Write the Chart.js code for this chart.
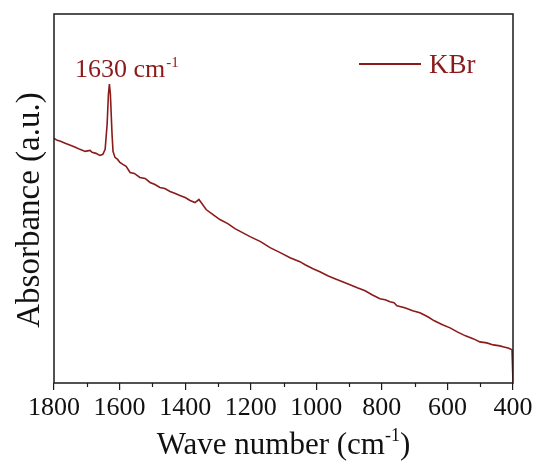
<!DOCTYPE html>
<html>
<head>
<meta charset="utf-8">
<script src="https://cdn.jsdelivr.net/npm/chart.js@4/dist/chart.umd.min.js"></script>
<style>
  html, body { margin: 0; padding: 0; background: #fff; }
  #wrap { width: 538px; height: 462px; position: relative; }
</style>
</head>
<body>
<div id="wrap"><canvas id="ftirChart"></canvas></div>
<script>
// FTIR spectrum of KBr (arbitrary absorbance units)
const waveNumbers = [
  1800, 1790, 1780, 1766, 1750, 1735, 1721, 1705, 1690, 1684, 1672, 1660, 1651,
  1644, 1638, 1634, 1631, 1628, 1623, 1620, 1614, 1606, 1599, 1590, 1580, 1568,
  1555, 1538, 1522, 1507, 1492, 1477, 1462, 1446, 1430, 1416, 1400, 1385, 1370,
  1358, 1349, 1336, 1315, 1294, 1270, 1248, 1225, 1202, 1170, 1141, 1110, 1080,
  1050, 1034, 1010, 989, 965, 943, 920, 897, 875, 851, 830, 806, 790, 775, 763,
  754, 730, 706, 684, 660, 640, 615, 592, 570, 545, 520, 501, 480, 460, 440,
  428, 415, 408, 403, 400
];
const absorbance = [
  244, 242, 241, 239, 237, 235, 233, 231, 232, 230, 229, 227, 228,
  233, 258, 288, 298, 288, 248, 231, 225, 223, 220, 218, 216, 210,
  209, 205, 204, 200, 198, 195, 194, 191, 189, 187, 185, 182, 180,
  183, 179, 173, 168, 163, 159, 154, 150, 146, 141, 135, 130, 125,
  121, 118, 114, 111, 107, 104, 101, 98, 95, 92, 88, 84, 83, 81, 80,
  77, 75, 72, 70, 66, 62, 58, 55, 51, 47, 44, 41, 40, 38, 37,
  36, 35, 34, 33, 0
];
const xMajorTicks = [1800, 1600, 1400, 1200, 1000, 800, 600, 400];
const xMinorTicks = [1700, 1500, 1300, 1100, 900, 700, 500];
const seriesLabel = "KBr";
const peakLabel = "1630 cm";

const lineColor = "#8b1a1a";
const axisColor = "#1a1a1a";
const serif = "'Liberation Serif', 'Times New Roman', serif";

const points = waveNumbers.map((w, i) => ({ x: w, y: absorbance[i] }));

// Frame, minor ticks, titles, legend and peak label
const decorations = {
  id: "decorations",
  afterDraw(chart) {
    const { ctx, chartArea: a, scales } = chart;
    ctx.save();
    ctx.strokeStyle = axisColor;
    ctx.lineWidth = 1.5;
    ctx.strokeRect(a.left, a.top, a.right - a.left, a.bottom - a.top);

    // minor ticks
    ctx.lineWidth = 1.2;
    xMinorTicks.forEach(v => {
      const px = Math.round(scales.x.getPixelForValue(v)) + 0.5;
      ctx.beginPath();
      ctx.moveTo(px, a.bottom);
      ctx.lineTo(px, a.bottom + 4);
      ctx.stroke();
    });

    ctx.fillStyle = "#111";
    ctx.textBaseline = "alphabetic";

    // x title with superscript
    const t1 = "Wave number (cm", sup = "-1", t2 = ")";
    ctx.font = `31px ${serif}`;
    const w1 = ctx.measureText(t1).width, w3 = ctx.measureText(t2).width;
    ctx.font = `18px ${serif}`;
    const w2 = ctx.measureText(sup).width;
    const x0 = (a.left + a.right) / 2 - (w1 + w2 + w3) / 2;
    const by = 454;
    ctx.textAlign = "left";
    ctx.font = `31px ${serif}`;
    ctx.fillText(t1, x0, by);
    ctx.font = `18px ${serif}`;
    ctx.fillText(sup, x0 + w1, by - 13);
    ctx.font = `31px ${serif}`;
    ctx.fillText(t2, x0 + w1 + w2, by);

    // y title
    ctx.save();
    ctx.translate(39, 210);
    ctx.rotate(-Math.PI / 2);
    ctx.textAlign = "center";
    ctx.font = `33px ${serif}`;
    ctx.fillText("Absorbance (a.u.)", 0, 0);
    ctx.restore();

    // peak label
    ctx.fillStyle = lineColor;
    ctx.textAlign = "left";
    ctx.font = `26px ${serif}`;
    ctx.fillText(peakLabel, 75, 77);
    const pw = ctx.measureText(peakLabel).width;
    ctx.font = `15px ${serif}`;
    ctx.fillText("-1", 75 + pw + 1, 67);

    // legend
    ctx.strokeStyle = lineColor;
    ctx.lineWidth = 1.8;
    ctx.beginPath();
    ctx.moveTo(359, 64);
    ctx.lineTo(421, 64);
    ctx.stroke();
    ctx.font = `27px ${serif}`;
    ctx.fillText(seriesLabel, 429, 73);
    ctx.restore();
  }
};

new Chart(document.getElementById("ftirChart"), {
  type: "line",
  data: {
    datasets: [{
      label: seriesLabel,
      data: points,
      borderColor: lineColor,
      borderWidth: 1.6,
      pointRadius: 0,
      tension: 0,
      fill: false
    }]
  },
  options: {
    responsive: true,
    maintainAspectRatio: false,
    animation: false,
    layout: { padding: { top: 14, right: 25, left: 0, bottom: 0 } },
    plugins: { legend: { display: false }, tooltip: { enabled: false } },
    scales: {
      x: {
        type: "linear",
        reverse: true,
        min: 400,
        max: 1800,
        afterFit: s => { s.height = 79; },
        afterBuildTicks: s => { s.ticks = xMajorTicks.map(v => ({ value: v })); },
        grid: { drawOnChartArea: false, tickLength: 7, color: axisColor, lineWidth: 1.2 },
        border: { display: false },
        ticks: {
          color: "#111",
          padding: 3,
          maxRotation: 0,
          autoSkip: false,
          font: { family: serif, size: 26 },
          callback: v => String(v)
        }
      },
      y: {
        min: 0,
        max: 368,
        afterFit: s => { s.width = 54; },
        grid: { display: false },
        border: { display: false },
        ticks: { display: false }
      }
    }
  },
  plugins: [decorations]
});
</script>
</body>
</html>
